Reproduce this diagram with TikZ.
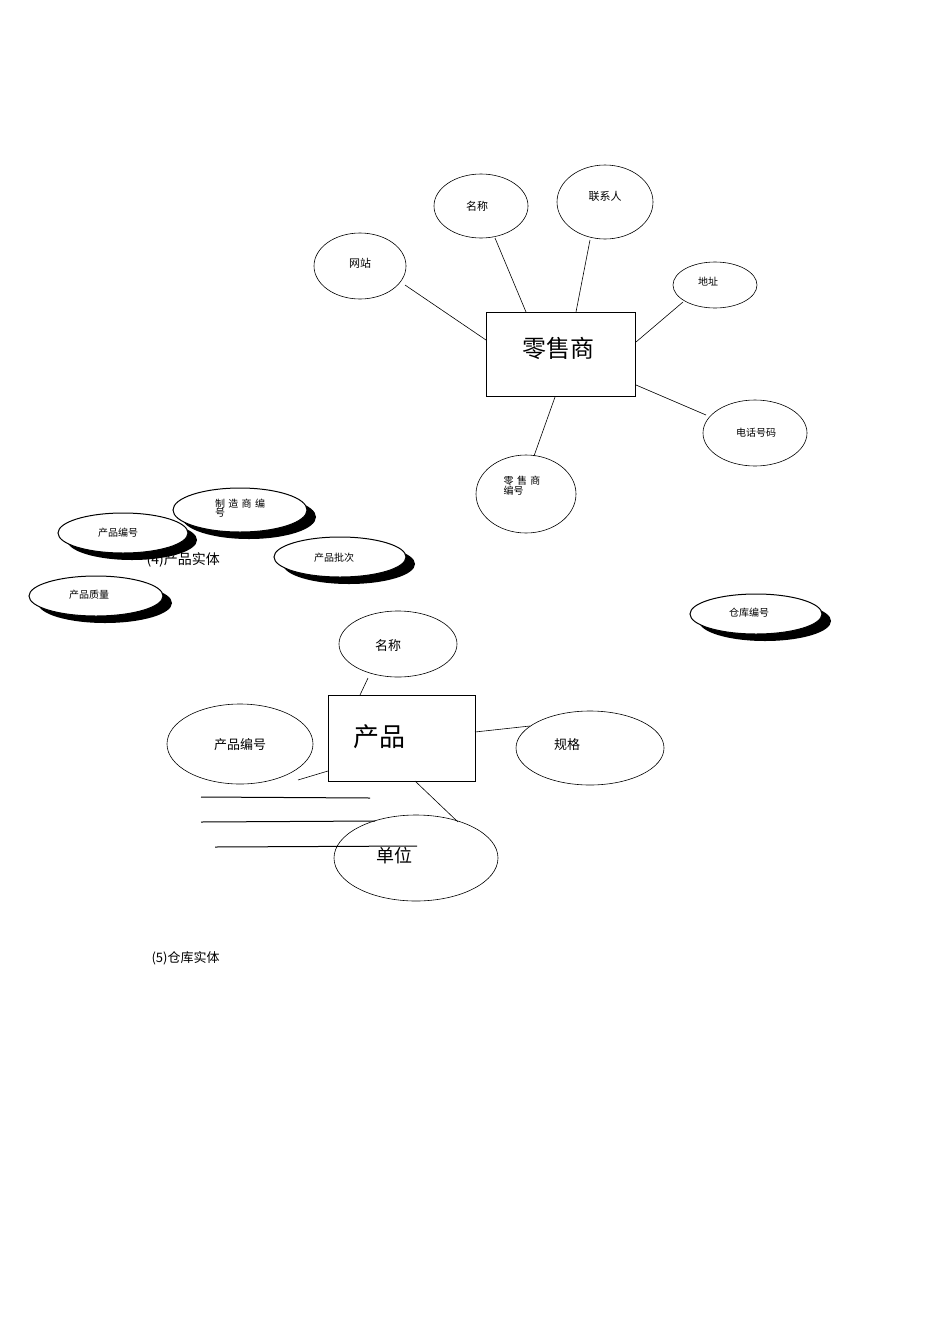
\documentclass[tikz,border=0pt]{standalone}
\usepackage{fontspec}
\setmainfont{Noto Sans CJK SC}
\begin{document}
\begin{tikzpicture}[x=1pt,y=-1pt,
  attr/.style={draw,ellipse,line width=0.6pt,fill=white},
  ln/.style={line width=0.6pt},
  ent/.style={draw,line width=0.7pt,fill=white}]
\useasboundingbox (0,0) rectangle (950,1344);
\def\el#1#2#3#4{\draw[line width=0.6pt,fill=white] (#1,#2) ellipse [x radius=#3,y radius=#4];}
\def\sel#1#2#3#4{\fill[black] (#1+9,#2+7) ellipse [x radius=#3,y radius=#4];\draw[line width=1pt,fill=white] (#1,#2) ellipse [x radius=#3,y radius=#4];}
% retailer
\draw[ent] (486,312) rectangle (635,396);
\node (ls) at (558,348) {\fontsize{24}{26}\selectfont 零售商};
\coordinate (lsW) at (486,340); \coordinate (lsN1) at (526,312); \coordinate (lsN2) at (576,312);
\coordinate (lsE1) at (636,342); \coordinate (lsE2) at (636,385); \coordinate (lsS) at (555,397);
\el{360}{266}{46}{33} \node (wz) at (360,263) {\fontsize{11}{13}\selectfont 网站};
\el{481}{206}{47}{32} \node (mc) at (477,206) {\fontsize{11}{13}\selectfont 名称};
\el{605}{202}{48}{37} \node (lx) at (605,196) {\fontsize{11}{13}\selectfont 联系人};
\el{715}{285}{42}{23} \node (dz) at (708,282) {\fontsize{10}{12}\selectfont 地址};
\el{755}{433}{52}{33} \node (dh) at (756,433) {\fontsize{10}{12}\selectfont 电话号码};
\el{526}{494}{50}{39} \node[align=left] (bh) at (522,486) {\fontsize{10}{11}\selectfont 零\,\,售\,\,商\\[-2pt]\fontsize{10}{11}\selectfont 编号};
\coordinate (a1) at (405,285); \coordinate (a2) at (495,238); \coordinate (a3) at (590,240);
\coordinate (a4) at (683,302); \coordinate (a5) at (706,415); \coordinate (a6) at (534,456);
\draw[ln] (a1)--(lsW); \draw[ln] (a2)--(lsN1); \draw[ln] (a3)--(lsN2);
\draw[ln] (a4)--(lsE1); \draw[ln] (a5)--(lsE2); \draw[ln] (a6)--(lsS);
% caption 4
\node[anchor=west] (c4) at (143,560) {\fontsize{14}{16}\selectfont (4)产品实体};
\sel{240}{510}{67}{22} \node[align=left] (zz) at (240,508) {\fontsize{10}{11}\selectfont 制\,\,造\,\,商\,\,编\\[-3pt]\fontsize{10}{11}\selectfont 号};
\sel{123}{533}{65}{20} \node (cb) at (118,533) {\fontsize{10}{12}\selectfont 产品编号};
\sel{340}{557}{66}{20} \node (pc) at (334,558) {\fontsize{10}{12}\selectfont 产品批次};
\sel{96}{596}{67}{20} \node (zl) at (89,595) {\fontsize{10}{12}\selectfont 产品质量};
\sel{756}{614}{66}{20} \node (ck) at (749,613) {\fontsize{10}{12}\selectfont 仓库编号};
% product
\el{398}{644}{59}{33} \node (pmc) at (388,646) {\fontsize{13}{15}\selectfont 名称};
\el{240}{744}{73}{40} \node (pbh) at (240,745) {\fontsize{13}{15}\selectfont 产品编号};
\el{590}{748}{74}{37} \node (pgg) at (567,745) {\fontsize{13}{15}\selectfont 规格};
\el{416}{858}{82}{43}
\draw[ent] (328,695) rectangle (475,781);
\node (cp) at (379,737) {\fontsize{26}{28}\selectfont 产品};
\node (dw) at (394,856) {\fontsize{18}{20}\selectfont 单位};
\coordinate (b1) at (368,678); \coordinate (p1) at (360,695);
\coordinate (b2) at (530,726); \coordinate (p2) at (475,732);
\coordinate (b3) at (298,780); \coordinate (p3) at (328,771);
\coordinate (b4) at (458,822); \coordinate (p4) at (415,781);
\draw[ln] (b1)--(p1); \draw[ln] (b2)--(p2); \draw[ln] (b3)--(p3); \draw[ln] (b4)--(p4);
\coordinate (h1a) at (201,797); \coordinate (h1b) at (370,798);
\coordinate (h2a) at (201,822); \coordinate (h2b) at (375,821);
\coordinate (h3a) at (215,847); \coordinate (h3b) at (417,846);
\draw[line width=1pt] (h1a)--(h1b); \draw[line width=1pt] (h2a)--(h2b); \draw[line width=1pt] (h3a)--(h3b);
\node[anchor=west] (c5) at (148,958) {\fontsize{13}{15}\selectfont (5)仓库实体};
\end{tikzpicture}
\end{document}
